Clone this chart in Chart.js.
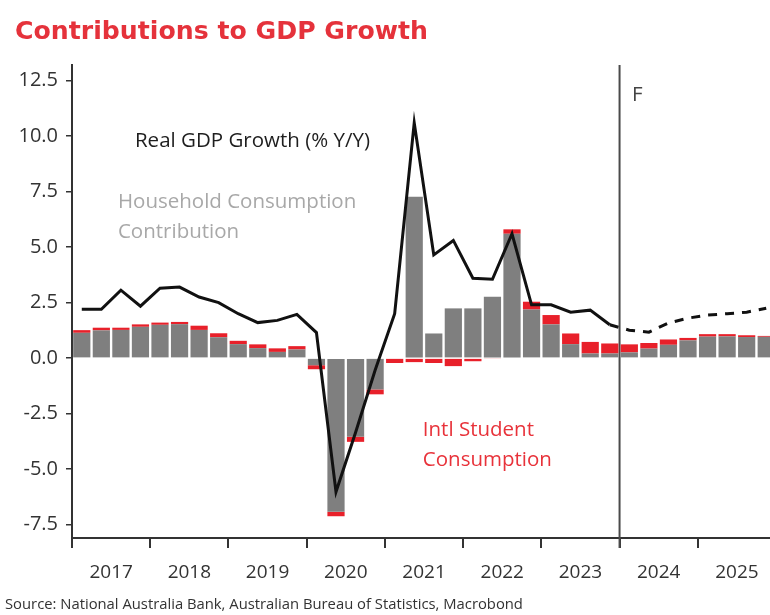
<!DOCTYPE html>
<html>
<head>
<meta charset="utf-8">
<script src="https://cdn.jsdelivr.net/npm/chart.js@4.4.1/dist/chart.umd.min.js"></script>
<style>
  html, body { margin: 0; padding: 0; background: #fff; overflow: hidden; }
  #wrap { position: relative; width: 780px; height: 615px; }
</style>
</head>
<body>
<div id="wrap"><canvas id="gdpChart" width="780" height="615"></canvas></div>
<script>
// quarterly data, 2017 Q1 .. 2025 Q4 (forecast from 2024 Q1)
const years = ['2017', '2018', '2019', '2020', '2021', '2022', '2023', '2024', '2025'];
const quarters = [];
years.forEach(y => ['Q1', 'Q2', 'Q3', 'Q4'].forEach(q => quarters.push(y + ' ' + q)));

// ppt contribution to y/y GDP growth
const household = [1.14, 1.25, 1.27, 1.41, 1.5, 1.53, 1.27, 0.94, 0.63, 0.45, 0.28, 0.39,
  -0.32, -6.92, -3.54, -1.41, 0.0, 7.27, 1.11, 2.24, 2.24, 2.76, 5.6, 2.19,
  1.52, 0.63, 0.21, 0.21, 0.26, 0.43, 0.6, 0.8, 0.97, 0.98, 0.95, 0.96];
const intlStudent = [0.12, 0.12, 0.1, 0.11, 0.1, 0.1, 0.19, 0.18, 0.15, 0.17, 0.16, 0.15,
  -0.18, -0.2, -0.23, -0.22, -0.22, -0.18, -0.22, -0.36, -0.14, -0.04, 0.2, 0.35,
  0.42, 0.48, 0.52, 0.45, 0.36, 0.25, 0.24, 0.11, 0.11, 0.1, 0.08, 0.04];

// real GDP growth, % y/y
const gdpActual = [2.2, 2.2, 3.06, 2.34, 3.15, 3.2, 2.75, 2.5, 2.0, 1.6, 1.7, 1.97,
  1.15, -6.02, -3.35, -0.55, 2.0, 10.6, 4.65, 5.3, 3.6, 3.55, 5.6, 2.4,
  2.4, 2.07, 2.16, 1.5, null, null, null, null, null, null, null, null];
const gdpForecast = [null, null, null, null, null, null, null, null, null, null, null, null,
  null, null, null, null, null, null, null, null, null, null, null, null,
  null, null, null, 1.5, 1.26, 1.17, 1.58, 1.8, 1.94, 2.0, 2.07, 2.25];

const yTicks = [-7.5, -5, -2.5, 0, 2.5, 5, 7.5, 10, 12.5];
const forecastFrom = 27.5; // between 2023 Q4 and 2024 Q1

const RED = '#e8202a';
const GREY = '#7f7f7f';
const FONT = "'Open Sans', sans-serif";

// text labels placed in data units (x = quarter index, y = value)
const notes = [
  { text: 'Real GDP Growth (% Y/Y)', x: 2.72, y: 9.77, color: '#1e1e1e' },
  { text: 'Household Consumption', x: 1.85, y: 7.03, color: '#a8a8a8' },
  { text: 'Contribution', x: 1.85, y: 5.68, color: '#a8a8a8' },
  { text: 'Intl Student', x: 17.44, y: -3.24, color: '#e8323a' },
  { text: 'Consumption', x: 17.44, y: -4.6, color: '#e8323a' },
  { text: 'F', x: 28.13, y: 11.85, color: '#444' }
];

const extras = {
  id: 'extras',
  beforeDatasetsDraw(chart) {
    const { ctx, chartArea, scales: { x } } = chart;
    const px = x.getPixelForValue(forecastFrom);
    ctx.save();
    ctx.strokeStyle = '#4a4a4a';
    ctx.lineWidth = 2;
    ctx.beginPath();
    ctx.moveTo(px, chartArea.top);
    ctx.lineTo(px, chartArea.bottom + 10);
    ctx.stroke();
    ctx.restore();
  },
  afterDraw(chart) {
    const { ctx, scales: { x, y } } = chart;
    ctx.save();
    ctx.textAlign = 'left';
    ctx.textBaseline = 'middle';
    ctx.font = '20.5px ' + FONT;
    notes.forEach(n => {
      ctx.fillStyle = n.color;
      ctx.fillText(n.text, x.getPixelForValue(n.x), y.getPixelForValue(n.y));
    });
    // title
    ctx.fillStyle = '#e5323b';
    ctx.font = "bold 25.2px 'DejaVu Sans', sans-serif";
    ctx.fillText('Contributions to GDP Growth', 15, 32);
    // source
    ctx.fillStyle = '#333';
    ctx.font = '14.8px ' + FONT;
    ctx.fillText('Source: National Australia Bank, Australian Bureau of Statistics, Macrobond', 5, 605);
    ctx.restore();
  }
};

const barOpts = { stack: 'contrib', barPercentage: 0.88, categoryPercentage: 1.0 };

new Chart(document.getElementById('gdpChart'), {
  data: {
    labels: quarters,
    datasets: [
      { type: 'bar', label: 'Household Consumption Contribution', data: household,
        backgroundColor: GREY, order: 2, ...barOpts },
      { type: 'bar', label: 'Intl Student Consumption', data: intlStudent,
        backgroundColor: RED, order: 3, ...barOpts },
      { type: 'line', label: 'Real GDP Growth (% Y/Y)', data: gdpActual, stack: 'actual',
        borderColor: '#111', borderWidth: 3, pointRadius: 0, tension: 0, order: 0 },
      { type: 'line', label: 'Real GDP Growth forecast', data: gdpForecast, stack: 'forecast',
        borderColor: '#111', borderWidth: 3, borderDash: [9, 8], pointRadius: 0, tension: 0, order: 1 }
    ]
  },
  options: {
    responsive: false,
    devicePixelRatio: 1,
    animation: false,
    layout: { padding: { top: 65, right: 4, bottom: 32, left: 0 } },
    plugins: { legend: { display: false }, tooltip: { enabled: false } },
    scales: {
      x: {
        stacked: true,
        offset: true,
        grid: {
          offset: true, drawOnChartArea: false, drawTicks: true, tickLength: 10, lineWidth: 2,
          color: ctx => (ctx.index % 4 === 0 ? '#333' : 'rgba(0,0,0,0)')
        },
        border: { color: '#333', width: 2 },
        ticks: {
          autoSkip: false, maxRotation: 0, minRotation: 0, labelOffset: 9.8, padding: 13,
          color: '#333', font: { family: FONT, size: 19 },
          callback: (v, i) => (i % 4 === 1 ? quarters[i].slice(0, 4) : '')
        },
        afterFit: s => { s.height = 45; }
      },
      y: {
        stacked: true,
        min: -8.1,
        max: 13.2,
        afterBuildTicks: s => { s.ticks = yTicks.map(v => ({ value: v })); },
        grid: { drawOnChartArea: false, tickLength: 6, lineWidth: 1.5, color: '#333' },
        border: { color: '#333', width: 2 },
        ticks: { padding: 8, color: '#333', font: { family: FONT, size: 20 },
          callback: v => v.toFixed(1) },
        afterFit: s => { s.width = 72; }
      }
    }
  },
  plugins: [extras]
});
</script>
</body>
</html>
